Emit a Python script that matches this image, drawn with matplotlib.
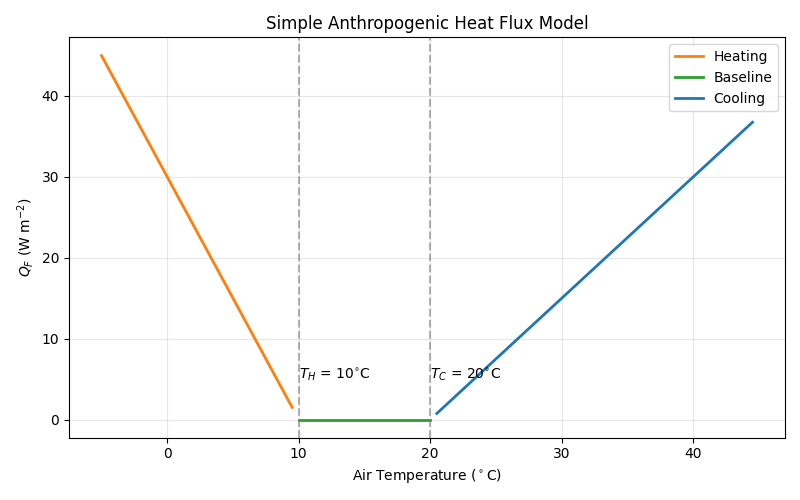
import matplotlib
matplotlib.use("Agg")
import matplotlib.pyplot as plt

# line end points
heat_t = [-5, 9.5]
heat_q = [45, 1.5]
base_t = [10, 20]
base_q = [0, 0]
cool_t = [20.5, 44.5]
cool_q = [0.75, 36.75]
t_heat = 10
t_cool = 20

fig, ax = plt.subplots(figsize=(8, 5), dpi=100)

ax.plot(heat_t, heat_q, color="tab:orange", lw=2, label="Heating")
ax.plot(base_t, base_q, color="tab:green", lw=2, label="Baseline")
ax.plot(cool_t, cool_q, color="tab:blue", lw=2, label="Cooling")

ax.axvline(t_heat, color="gray", ls="--", alpha=0.6)
ax.axvline(t_cool, color="gray", ls="--", alpha=0.6)
ax.text(t_heat, 5, r"$T_H$ = 10$^{\circ}$C")
ax.text(t_cool, 5, r"$T_C$ = 20$^{\circ}$C")

ax.set_xlabel(r"Air Temperature ($^\circ$C)")
ax.set_ylabel(r"$Q_F$ (W m$^{-2}$)")
ax.set_title("Simple Anthropogenic Heat Flux Model")
ax.grid(True, alpha=0.3)
ax.legend(loc="upper right")

fig.tight_layout()
fig.savefig("out.png")
